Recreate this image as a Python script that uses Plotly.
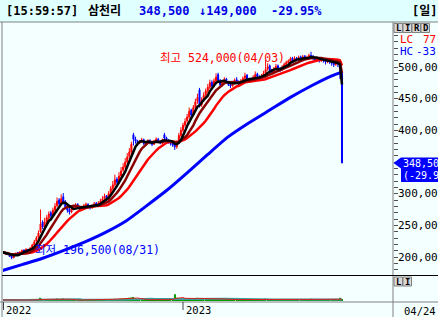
import plotly.graph_objects as go
import pandas as pd

W, H = 438, 317

# ---------------- data ----------------
holidays = ["2022-09-09", "2022-09-12", "2022-10-03", "2022-10-10", "2022-12-30",
            "2023-01-23", "2023-01-24", "2023-03-01"]
days = [d for d in pd.bdate_range("2022-08-24", "2023-04-24")
        if d.strftime("%Y-%m-%d") not in holidays]

# prices in thousand won
open_k = [207,208,205,207,204,201,199,203,207,205,208,211,209,212,
          211,214,219,225,231,240,255,247,
          255,262,270,265,274,281,290,284,
          295,287,280,275,
          271,276,279,283,278,275,280,281,283,280,278,281,285,282,285,
          288,292,297,291,300,308,314,323,318,328,337,342,350,359,
          366,393,386,383,
          380,382,385,379,381,384,380,378,383,386,382,380,393,388,384,381,379,377,
          374,381,392,
          400,408,415,421,432,425,436,446,464,440,
          448,455,462,468,476,470,478,488,479,472,
          476,481,476,472,470,474,480,477,473,478,482,487,481,477,480,484,489,485,481,486,
          490,497,502,494,492,497,502,498,495,500,504,507,509,514,510,514,511,516,512,517,513,515,
          518,517,514,511,514,510,513,510,508,512,509,506,504,508,
          506,492]
high_k = [210,209,208,208,205,202,204,207,208,209,212,212,214,213,
          216,221,227,233,242,275,258,262,
          266,272,273,278,285,294,293,299,
          301,290,283,278,
          279,282,285,285,280,281,284,286,285,282,283,287,287,288,292,
          296,300,298,304,312,320,330,326,334,342,348,356,364,372,
          382,396,390,385,
          385,388,387,383,386,386,382,385,389,388,384,387,396,390,386,383,381,379,
          384,396,405,
          412,419,426,436,434,440,450,458,467,452,
          460,466,473,480,479,482,490,491,481,479,
          484,483,478,475,477,482,484,479,481,485,491,489,483,483,487,493,491,487,489,494,
          511,506,504,497,500,505,504,500,503,507,510,512,516,516,517,516,518,518,519,519,518,521,
          524,519,516,516,515,515,514,512,514,513,511,508,510,509,
          508,493]
low_k = [205,205,204,203,200,196.5,198,202,204,204,207,208,208,209,
         210,213,218,223,229,238,244,245,
         252,258,262,263,271,278,281,282,
         283,276,270,267,
         269,274,277,276,272,273,277,279,278,275,276,279,280,280,283,
         285,289,288,289,298,305,311,315,316,325,334,339,347,355,
         362,376,379,376,
         378,380,377,377,379,378,375,377,381,380,378,378,385,382,379,376,374,369,
         371,379,389,
         397,404,411,418,420,423,433,442,436,437,
         445,452,458,465,467,468,476,476,468,469,
         474,474,470,467,469,472,475,471,472,476,480,479,475,476,479,483,483,479,480,484,
         488,494,492,488,490,495,496,492,494,498,502,505,507,508,508,509,509,510,510,511,511,513,
         513,511,508,509,507,508,507,504,506,505,502,500,502,500,
         481,348.5]
close_k = [208,206,207,204,201,199,203,206,205,208,210,209,212,211,
           214,219,224,230,238,252,248,255,
           262,268,265,274,280,288,284,292,
           286,279,274,271,
           276,279,282,278,275,279,281,283,280,278,281,284,282,285,288,
           292,296,291,300,308,314,322,318,328,336,342,350,358,366,
           378,386,383,380,
           382,385,379,381,384,380,378,383,386,382,380,385,388,384,381,379,377,374,
           380,392,400,
           408,414,421,430,424,436,445,452,440,448,
           455,462,468,475,470,478,484,479,472,476,
           480,476,472,470,474,479,477,473,478,482,486,481,477,480,484,488,485,481,486,490,
           496,500,494,492,497,501,498,495,500,504,507,509,513,510,514,511,515,512,516,513,515,518,
           517,514,511,514,510,513,510,508,512,509,506,504,507,505,
           497.5,348.5]
# volume, thousand shares
volume_k = [40,35,30,45,38,50,42,36,33,30,38,40,35,32,
            45,50,55,60,70,120,80,65,
            60,70,55,65,75,90,70,85,
            95,60,50,45,
            40,38,42,35,33,36,40,38,35,33,37,40,36,42,48,
            55,60,50,65,70,75,80,70,85,90,95,100,110,120,
            130,150,90,70,
            60,55,50,48,52,45,40,44,50,46,42,48,70,55,50,45,60,250,
            120,100,110,
            90,85,95,100,80,90,110,120,100,85,
            80,75,85,90,70,80,95,85,70,65,
            60,55,50,48,52,58,55,50,53,57,62,55,50,52,56,60,55,50,54,60,
            90,70,60,55,58,62,55,50,56,60,65,62,70,60,65,58,62,55,60,56,58,65,
            80,60,55,58,52,55,50,48,55,52,50,48,52,60,
            120,60]
# long moving average (day index, thousand won)
ma_long_idx = [0, 10, 20, 30, 40, 50, 60, 70, 80, 90, 100, 110, 120, 130, 140, 150, 160, 165]
ma_long_k = [178, 188, 198, 210, 223, 238, 256, 280, 305, 333, 362, 390, 412, 432, 452, 470, 486, 492]

# right-axis labels as shown (clipped by the window edge in the original)
price_ticks = [200000, 250000, 300000, 400000, 450000, 500000]
price_tick_text = ["200,00", "250,00", "300,00", "400,00", "450,00", "500,00"]
year_labels = [("2022", 0), ("2023", 88)]
last_date_label = "04/24"
high_label = "최고 524,000(04/03)"
low_label = "최저 196,500(08/31)"
cur_box_text = ["348,50", "(-29.9"]
title_parts = [("[15:59:57]", "#000000", 5), ("삼천리", "#000000", 87),
               ("348,500", "#0000E6", 138), ("↓149,000", "#0000E6", 198),
               ("-29.95%", "#0000E6", 270), ("[일]", "#000000", 411)]

n = len(days)
assert all(len(a) == n for a in (open_k, high_k, low_k, close_k, volume_k)), n

K = 1000
o = [v * K for v in open_k]
h = [v * K for v in high_k]
l = [v * K for v in low_k]
c = [v * K for v in close_k]
xs = list(range(n))
cs = pd.Series(c)
ma5 = cs.rolling(5, min_periods=1).mean()
ma10 = cs.rolling(10, min_periods=1).mean()
ma20 = cs.rolling(20, min_periods=1).mean()
vs = pd.Series(volume_k)
vma5 = vs.rolling(5, min_periods=1).mean()
vma20 = vs.rolling(20, min_periods=1).mean()

Y_RANGE = [171600, 569500]
Y_TOP, Y_BOT = 23, 275


def PX(x):
    return x / W


def PY(y):
    return 1 - y / H


def price_to_py(p):
    return Y_BOT - (p - Y_RANGE[0]) / (Y_RANGE[1] - Y_RANGE[0]) * (Y_BOT - Y_TOP)


MONO = "DejaVu Sans Mono, Noto Sans CJK KR, monospace"
BG = "#F4FFFF"

fig = go.Figure()
fig.add_trace(go.Candlestick(
    x=xs, open=o, high=h, low=l, close=c,
    increasing=dict(line=dict(color="#FF0000", width=1), fillcolor="#FF0000"),
    decreasing=dict(line=dict(color="#0000FF", width=1), fillcolor="#0000FF"),
    whiskerwidth=0, xaxis="x", yaxis="y", hoverinfo="skip"))
fig.add_trace(go.Scatter(x=ma_long_idx, y=[v * K for v in ma_long_k], mode="lines",
                         line=dict(color="#0000FF", width=3, shape="spline", smoothing=0.6),
                         xaxis="x", yaxis="y"))
fig.add_trace(go.Scatter(x=xs, y=ma20, mode="lines",
                         line=dict(color="#FF0000", width=2.5), xaxis="x", yaxis="y"))
fig.add_trace(go.Scatter(x=xs, y=ma10, mode="lines",
                         line=dict(color="#8B0000", width=2.5), xaxis="x", yaxis="y"))
fig.add_trace(go.Scatter(x=xs, y=ma5, mode="lines",
                         line=dict(color="#000000", width=2.5), xaxis="x", yaxis="y"))

fig.add_trace(go.Bar(x=xs, y=volume_k, marker=dict(color="#00A000", line=dict(width=0)),
                     xaxis="x2", yaxis="y2"))
fig.add_trace(go.Scatter(x=xs, y=vma20, mode="lines", line=dict(color="#3C9C9C", width=2),
                         xaxis="x2", yaxis="y2"))
fig.add_trace(go.Scatter(x=xs, y=vma5, mode="lines", line=dict(color="#FF0000", width=0.8),
                         xaxis="x2", yaxis="y2"))

x_dom = [PX(3), PX(393)]
x_rng = [0.82, 189.7]

shapes = [
    dict(type="rect", xref="paper", yref="paper", x0=0, x1=1, y0=PY(22), y1=1,
         fillcolor="#E0FFFF", line=dict(width=0), layer="below"),
    dict(type="line", xref="paper", yref="paper", x0=0, x1=1, y0=PY(22), y1=PY(22),
         line=dict(color="#808080", width=1)),
    dict(type="line", xref="paper", yref="paper", x0=PX(2), x1=PX(2), y0=PY(22), y1=0,
         line=dict(color="#808080", width=1)),
    dict(type="line", xref="paper", yref="paper", x0=PX(393), x1=PX(393), y0=PY(22), y1=0,
         line=dict(color="#808080", width=1)),
    dict(type="line", xref="paper", yref="paper", x0=PX(2), x1=1, y0=PY(275.5), y1=PY(275.5),
         line=dict(color="#000000", width=1)),
    dict(type="line", xref="paper", yref="paper", x0=0, x1=1, y0=PY(302), y1=PY(302),
         line=dict(color="#808080", width=1)),
    # current price marker
    dict(type="path", xref="paper", yref="paper",
         path=f"M {PX(393.5)},{PY(163)} L {PX(401)},{PY(157.5)} L {PX(401)},{PY(168.5)} Z",
         fillcolor="#0000FF", line=dict(width=0)),
    dict(type="rect", xref="paper", yref="paper", x0=PX(401), x1=1, y0=PY(182), y1=PY(157.5),
         fillcolor="#0000FF", line=dict(width=0)),
]
# year ticks
shapes.append(dict(type="line", xref="paper", yref="paper", x0=PX(3.5), x1=PX(3.5),
                   y0=PY(302), y1=PY(310), line=dict(color="#404040", width=1)))
shapes.append(dict(type="line", xref="x", yref="paper", x0=88, x1=88,
                   y0=PY(302), y1=PY(310), line=dict(color="#404040", width=1)))

annotations = []


def ann(text, x, y, color="#000000", size=11.5, xanchor="left", xref="paper", bold=False,
        yanchor="middle"):
    f = dict(family=MONO, size=size, color=color)
    if bold:
        f["weight"] = "bold"
    annotations.append(dict(text=text, x=x, y=y, xref=xref, yref="paper", xanchor=xanchor,
                            yanchor=yanchor, showarrow=False, borderpad=0, font=f))


for txt, col, x0 in title_parts:
    ann(txt, PX(x0), PY(11), col, size=12, bold=True)

# L I R D buttons
for lt, x0 in [("L", 394), ("I", 403), ("R", 412), ("D", 421)]:
    shapes.append(dict(type="rect", xref="paper", yref="paper", x0=PX(x0), x1=PX(x0 + 8.5),
                       y0=PY(32.5), y1=PY(23.5), fillcolor="#D8D8D8",
                       line=dict(color="#808080", width=1)))
    ann(lt, PX(x0 + 4.5), PY(28), size=9, xanchor="center", bold=True)
for lt, x0 in [("L", 394), ("I", 403)]:
    shapes.append(dict(type="rect", xref="paper", yref="paper", x0=PX(x0), x1=PX(x0 + 8.5),
                       y0=PY(286), y1=PY(277), fillcolor="#D8D8D8",
                       line=dict(color="#808080", width=1)))
    ann(lt, PX(x0 + 4.5), PY(281.5), size=9, xanchor="center", bold=True)

for txt, col, x0, y0 in [("LC", "#FF0000", 398.5, 39.5), ("77", "#FF0000", 422, 39.5),
                         ("HC", "#0000FF", 398.5, 51.5), ("-33", "#0000FF", 415, 51.5)]:
    ann(txt, PX(x0), PY(y0), col, size=11)

# right price-axis labels
for v, t in zip(price_ticks, price_tick_text):
    ann(t, PX(396.5), PY(price_to_py(v)), size=11)

# current price box texts
ann(cur_box_text[0], PX(401.5), PY(163.5), "#FFFFFF", size=10)
ann(cur_box_text[1], PX(401.5), PY(175.5), "#FFFFFF", size=10)

# high / low labels
ann(high_label, PX(158.5), PY(58.5), "#FF0000")
ann(low_label, PX(34), PY(250), "#0000FF")

# date labels
ann(year_labels[0][0], PX(5), PY(310), size=10.5)
ann(year_labels[1][0], year_labels[1][1] + 0.9, PY(310), xref="x", size=10.5)
ann(last_date_label, PX(403), PY(310.5), size=10.5)

# axis tick marks (every 10,000 won) just right of the divider
minor_vals = list(range(180000, 570000, 10000))

fig.update_layout(
    width=W, height=H, autosize=False,
    margin=dict(l=0, r=0, t=0, b=0, pad=0),
    paper_bgcolor=BG, plot_bgcolor=BG,
    showlegend=False, bargap=0.35,
    xaxis=dict(domain=x_dom, range=x_rng, showticklabels=False, showgrid=False,
               zeroline=False, showline=False, ticks="", anchor="y",
               rangeslider=dict(visible=False), fixedrange=True),
    xaxis2=dict(domain=x_dom, range=x_rng, matches="x", showticklabels=False, showgrid=False,
                zeroline=False, showline=False, ticks="", anchor="y2"),
    yaxis=dict(domain=[PY(Y_BOT), PY(Y_TOP)], range=Y_RANGE, side="right", anchor="x",
               tickmode="array", tickvals=minor_vals, showticklabels=False,
               ticks="outside", ticklen=4, tickcolor="#505050", tickwidth=1,
               showgrid=False, zeroline=False, showline=False, fixedrange=True),
    yaxis2=dict(domain=[PY(301), PY(277)], range=[0, 900], anchor="x2",
                showticklabels=False, showgrid=False, zeroline=False, showline=False),
    shapes=shapes, annotations=annotations,
)

fig.write_html("out.html", config={"displayModeBar": False, "responsive": False},
               post_script="document.documentElement.style.overflow='hidden';"
                           "document.body.style.overflow='hidden';"
                           "document.body.style.margin='0';")
